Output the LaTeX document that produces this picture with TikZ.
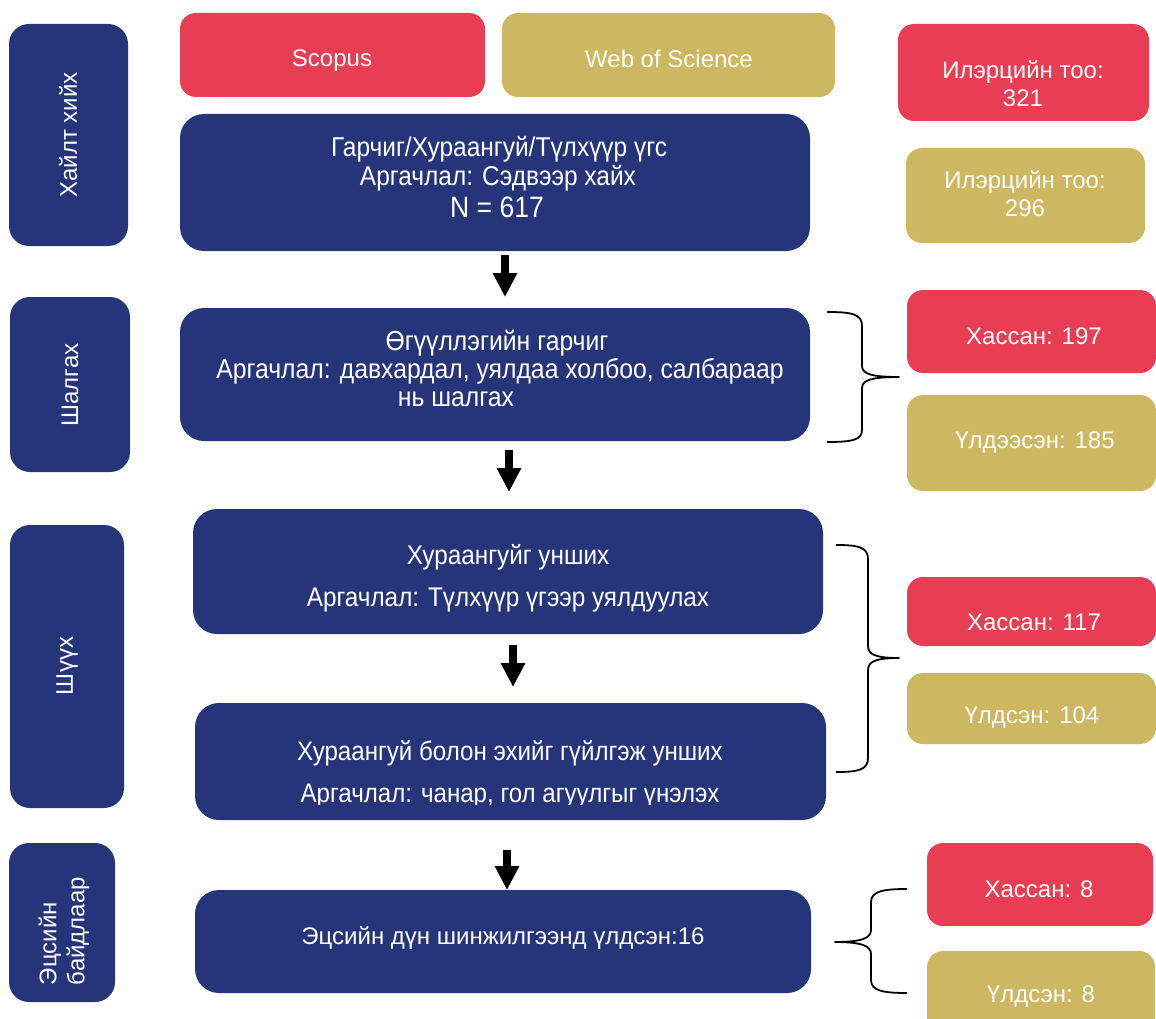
\documentclass[tikz,border=0pt]{standalone}
\usepackage{fontspec}
\setmainfont{Liberation Sans}
\newfontfamily\narrowfont{Liberation Sans}[FakeStretch=0.9]
\usetikzlibrary{arrows.meta}
\definecolor{navy}{HTML}{263579}
\definecolor{rred}{HTML}{E83D52}
\definecolor{gold}{HTML}{CDB760}
\begin{document}
\begin{tikzpicture}[x=1pt,y=-1pt,
  base/.style={rectangle, draw=none, inner sep=0pt, outer sep=0pt},
  navybox/.style={base, fill=navy, rounded corners=24pt},
  sidebox/.style={base, fill=navy, rounded corners=20pt},
  redbox/.style={base, fill=rred, rounded corners=16pt},
  goldbox/.style={base, fill=gold, rounded corners=16pt},
  txt/.style={text=white, inner sep=0pt, font=\fontsize{24}{28}\selectfont},
  ntxt/.style={text=white, inner sep=0pt, font=\narrowfont\fontsize{#1}{30}\selectfont},
  ntxt/.default=27,
  bigarrow/.style={draw=black, line width=8pt, -{Triangle[width=23pt,length=24pt]}},
  brace/.style={draw=black, line width=1.8pt, line join=round}]
\useasboundingbox (0,0) rectangle (1156,1019);
\clip (0,0) rectangle (1156,1019);

% left stage boxes
\node[sidebox, minimum width=119pt, minimum height=222pt] (L1) at (68.5,135) {};
\node[sidebox, minimum width=120pt, minimum height=175pt] (L2) at (70,384.5) {};
\node[sidebox, minimum width=114pt, minimum height=283pt] (L3) at (67,666.5) {};
\node[sidebox, minimum width=106pt, minimum height=159pt] (L4) at (62,922.5) {};
\node[txt, rotate=90] (L1t) at (68,135) {Хайлт хийх};
\node[txt, rotate=90] (L2t) at (70,385) {Шалгах};
\node[txt, rotate=90] (L3t) at (67,666) {Шүүх};
\node[txt, rotate=90, align=left] (L4t) at (64,931) {Эцсийн\\байдлаар};

% top databases
\node[redbox, minimum width=305pt, minimum height=84pt] (sc) at (332.5,55) {};
\node[goldbox, minimum width=333pt, minimum height=84pt] (wos) at (668.5,55) {};
\node[txt] (sct) at (332,61) {Scopus};
\node[txt] (wost) at (669,59) {Web of Science};

% main boxes
\node[navybox, minimum width=630pt, minimum height=137pt] (b1) at (495,182.5) {};
\node[navybox, minimum width=630pt, minimum height=133pt] (b2) at (495,374.5) {};
\node[navybox, minimum width=630pt, minimum height=125pt] (b3) at (508,571.5) {};
\node[navybox, minimum width=631pt, minimum height=117pt] (b4) at (510.5,761.5) {};
\node[navybox, minimum width=616pt, minimum height=103pt] (b5) at (503,941.5) {};

\node[ntxt=27.2] (b1a) at (499,149) {Гарчиг/Хураангуй/Түлхүүр үгс};
\node[ntxt=27.2] (b1b) at (498,178) {Аргачлал: Сэдвээр хайх};
\node[ntxt=29.5] (b1c) at (497,207) {N = 617};

\node[ntxt=27.5] (b2a) at (497,343) {Өгүүллэгийн гарчиг};
\node[ntxt=27.5] (b2b) at (500,371) {Аргачлал: давхардал, уялдаа холбоо, салбараар};
\node[ntxt=27.5] (b2c) at (456,399) {нь шалгах};

\node[ntxt=27] (b3a) at (508,557) {Хураангуйг унших};
\node[ntxt=27] (b3b) at (508,600) {Аргачлал: Түлхүүр үгээр уялдуулах};

\begin{scope}
\clip (195,703) rectangle (826,804);
\node[ntxt=26.8] (b4a) at (510,753) {Хураангуй болон эхийг гүйлгэж унших};
\node[ntxt=26.8] (b4b) at (510,796) {Аргачлал: чанар, гол агуулгыг үнэлэх};
\end{scope}

\node[txt] (b5a) at (503,938) {Эцсийн дүн шинжилгээнд үлдсэн:16};

% right result boxes
\node[redbox, minimum width=251pt, minimum height=97pt] (r1) at (1023.5,72.5) {};
\node[goldbox, minimum width=239pt, minimum height=95pt] (g1) at (1025.5,195.5) {};
\node[redbox, minimum width=249pt, minimum height=83pt] (r2) at (1031.5,331.5) {};
\node[goldbox, minimum width=249pt, minimum height=96pt] (g2) at (1031.5,443) {};
\node[redbox, minimum width=249pt, minimum height=69pt] (r3) at (1031.5,611.5) {};
\node[goldbox, minimum width=249pt, minimum height=71pt] (g3) at (1031.5,708.5) {};
\node[redbox, minimum width=226pt, minimum height=83pt] (r4) at (1040,884.5) {};
\node[goldbox, minimum width=228pt, minimum height=89pt] (g4) at (1041,995.5) {};

\node[txt, align=center] (r1t) at (1023,84) {Илэрцийн тоо:\\321};
\node[txt, align=center] (g1t) at (1025,194) {Илэрцийн тоо:\\296};
\node[txt] (r2t) at (1034,336) {Хассан: 197};
\node[txt] (g2t) at (1035,443) {Үлдээсэн: 185};
\node[txt] (r3t) at (1034,622) {Хассан: 117};
\node[txt] (g3t) at (1032,718) {Үлдсэн: 104};
\node[txt] (r4t) at (1039,889) {Хассан: 8};
\node[txt] (g4t) at (1041,997) {Үлдсэн: 8};

% arrows between steps
\coordinate (a1s) at (505,255); \coordinate (a1e) at (505,297);
\coordinate (a2s) at (509,450); \coordinate (a2e) at (509,492);
\coordinate (a3s) at (513,645); \coordinate (a3e) at (513,687);
\coordinate (a4s) at (507,850); \coordinate (a4e) at (507,890);
\draw[bigarrow] (a1s) -- (a1e);
\draw[bigarrow] (a2s) -- (a2e);
\draw[bigarrow] (a3s) -- (a3e);
\draw[bigarrow] (a4s) -- (a4e);

% braces
\draw[brace] (827,312) .. controls (852,312) and (862,314) .. (862,326) -- (862,366)
  .. controls (862,374) and (872,377) .. (899,377)
  .. controls (872,377) and (862,380) .. (862,388) -- (862,430)
  .. controls (862,440) and (852,442) .. (827,442);
\draw[brace] (836,545) .. controls (858,545) and (868,547) .. (868,559) -- (868,646)
  .. controls (868,655) and (877,658) .. (899,658)
  .. controls (877,658) and (868,661) .. (868,670) -- (868,758)
  .. controls (868,770) and (858,772) .. (836,772);
\draw[brace] (907,889) .. controls (884,889) and (871,891) .. (871,902) -- (871,930)
  .. controls (871,938) and (862,942) .. (835,942)
  .. controls (862,942) and (871,946) .. (871,954) -- (871,980)
  .. controls (871,991) and (884,993) .. (907,993);
\end{tikzpicture}
\end{document}
